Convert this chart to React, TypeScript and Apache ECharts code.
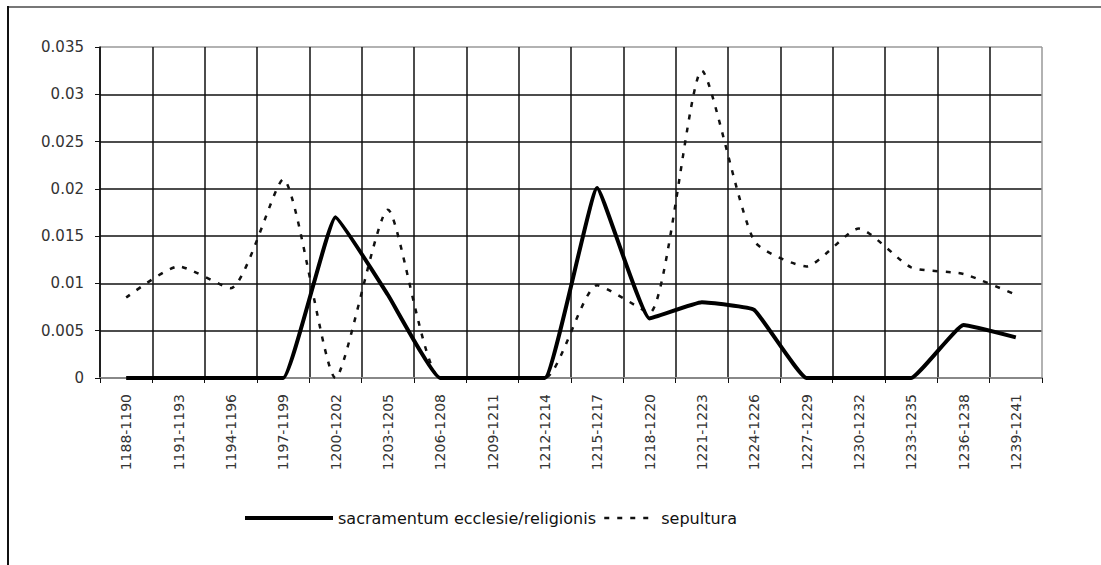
import React, { useEffect, useRef } from "react";
import * as echarts from "echarts";

const categories: string[] = [
  "1188-1190", "1191-1193", "1194-1196", "1197-1199", "1200-1202", "1203-1205",
  "1206-1208", "1209-1211", "1212-1214", "1215-1217", "1218-1220", "1221-1223",
  "1224-1226", "1227-1229", "1230-1232", "1233-1235", "1236-1238", "1239-1241",
];

const sacramentum: number[] = [
  0, 0, 0, 0, 0.017, 0.0088, 0, 0, 0, 0.0201, 0.0063, 0.008, 0.0072, 0, 0, 0, 0.0056, 0.0043,
];

const sepultura: number[] = [
  0.0085, 0.0118, 0.0095, 0.021, 0, 0.0178, 0, 0, 0, 0.0098, 0.0069, 0.0325, 0.0145, 0.0118,
  0.0158, 0.0117, 0.011, 0.0088,
];

const seriesNames: string[] = ["sacramentum ecclesie/religionis", "sepultura"];

const FONT = "DejaVu Sans";

export default function App() {
  const ref = useRef<HTMLDivElement>(null);
  useEffect(() => {
    if (!ref.current) return;
    const chart = echarts.init(ref.current, undefined, { renderer: "svg" });
    const ySplitColors = ["#888", "#111", "#111", "#111", "#111", "#111", "#111", "#999"];
    const xSplitColors = categories.map(() => "#111").concat(["#999"]);
    const legendBase = {
      top: 510,
      padding: 0,
      itemHeight: 14,
      itemStyle: { color: "rgba(0,0,0,0)", borderWidth: 0 },
      textStyle: { color: "#111", fontFamily: FONT, fontSize: 16 },
    };
    chart.setOption({
      animation: false,
      backgroundColor: "#fff",
      grid: { left: 100, right: 59, top: 47, bottom: 187, show: false },
      xAxis: {
        type: "category",
        data: categories,
        boundaryGap: true,
        axisLine: { show: true, lineStyle: { color: "#888", width: 2 } },
        axisTick: { show: true, alignWithLabel: false, length: 5, lineStyle: { color: "#111" } },
        splitLine: { show: true, lineStyle: { color: xSplitColors, width: 1.5 } },
        axisLabel: {
          rotate: 90,
          margin: 16,
          interval: 0,
          color: "#333",
          fontFamily: FONT,
          fontSize: 14,
        },
      },
      yAxis: {
        type: "value",
        min: 0,
        max: 0.035,
        interval: 0.005,
        axisLine: { show: true, lineStyle: { color: "#111", width: 1.5 } },
        axisTick: { show: true, length: 5, lineStyle: { color: "#111" } },
        splitLine: { show: true, lineStyle: { color: ySplitColors, width: 1.5 } },
        axisLabel: {
          margin: 16,
          color: "#333",
          fontFamily: FONT,
          fontSize: 15,
          formatter: (v: number) => String(+v.toFixed(3)),
        },
      },
      legend: [
        {
          ...legendBase,
          data: [seriesNames[0]],
          left: 243,
          itemWidth: 88,
          lineStyle: { width: 4, color: "#000" },
        },
        {
          ...legendBase,
          data: [seriesNames[1]],
          left: 603,
          itemWidth: 52,
          lineStyle: { width: 2.5, color: "#111", type: [5, 8] },
        },
      ],
      graphic: [
        { type: "line", shape: { x1: 8, y1: 7, x2: 1101, y2: 7 }, style: { stroke: "#777", lineWidth: 2 } },
        { type: "line", shape: { x1: 8, y1: 6, x2: 8, y2: 565 }, style: { stroke: "#111", lineWidth: 2 } },
      ],
      series: [
        {
          name: seriesNames[1],
          type: "line",
          data: sepultura,
          smooth: 0.2,
          symbol: "none",
          lineStyle: { color: "#111", width: 2.5, type: [5, 8] },
          itemStyle: { color: "#111" },
          z: 3,
        },
        {
          name: seriesNames[0],
          type: "line",
          data: sacramentum,
          smooth: 0.1,
          symbol: "none",
          lineStyle: { color: "#000", width: 4 },
          itemStyle: { color: "#000" },
          z: 4,
        },
      ],
    });
    return () => chart.dispose();
  }, []);
  return (
    <div
      ref={ref}
      style={{ position: "absolute", left: 0, top: 0, width: 1101, height: 565 }}
    />
  );
}
